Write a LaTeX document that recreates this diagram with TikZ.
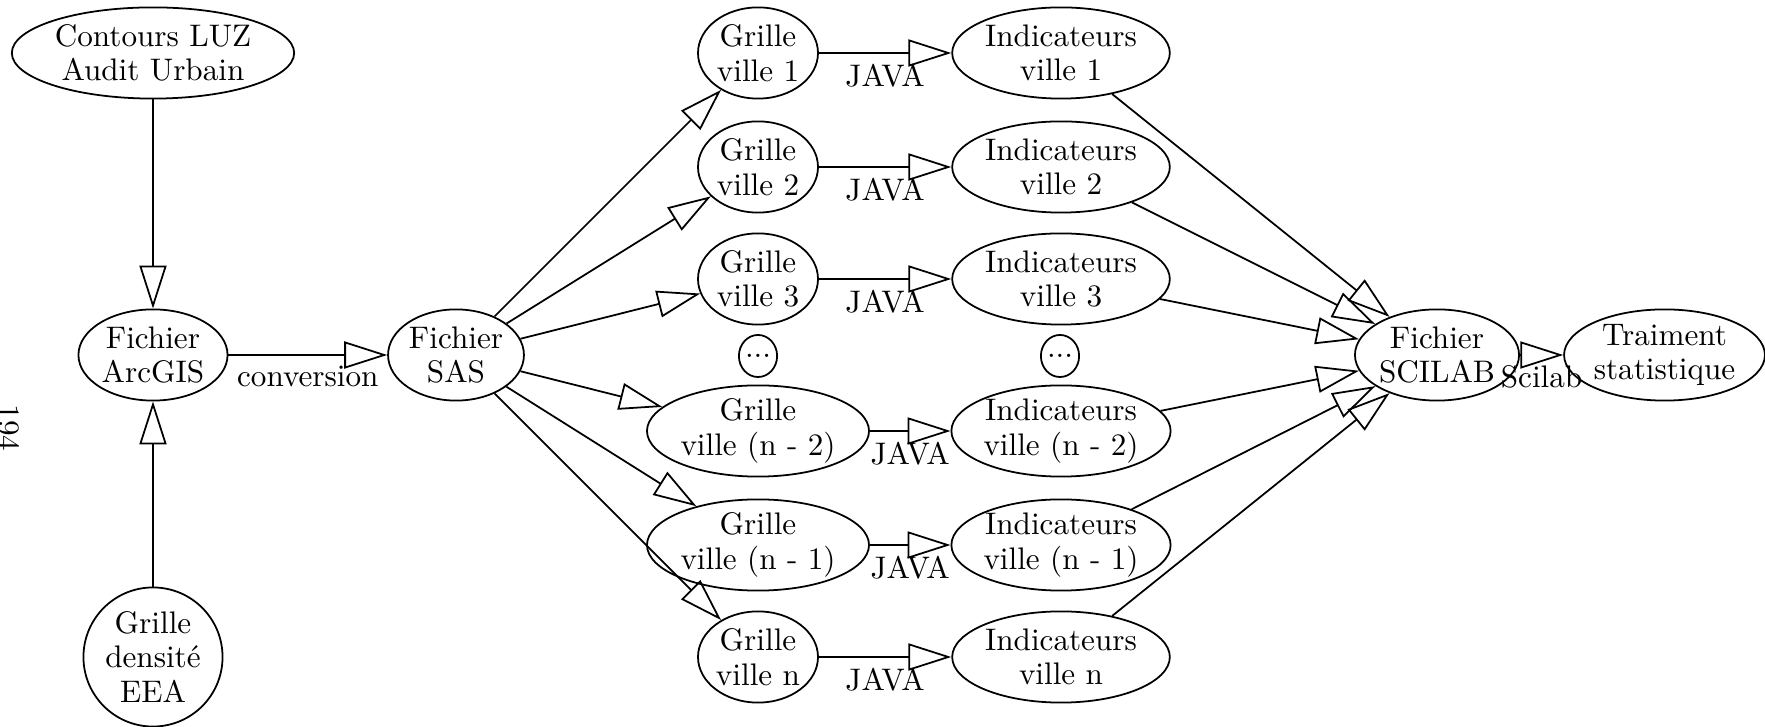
\documentclass[tikz,border=0pt]{standalone}
\usepackage{fontspec}
\usetikzlibrary{arrows.meta,shapes.geometric}

\tikzset{
  etape/.style={draw, ellipse, line width=0.6pt, inner sep=0pt, align=center,
    minimum height=31pt},
  fleche/.style={line width=0.6pt, -{Triangle[open, length=14.6pt, width=9.2pt]}},
  etiq/.style={below=2.4pt, inner sep=1pt, pos=0.5}
}

\begin{document}
\begin{tikzpicture}[x=0.34pt, y=-0.34pt,
    every node/.style={font=\fontsize{10.6pt}{11.8pt}\selectfont}]
  % cadre de la page (pixels)
  \useasboundingbox (0,0) rectangle (1765,727);

  % numero de page
  \node[rotate=-90] (page) at (9,428) {194};

  % sources
  \node[etape, minimum width=96pt] (luz) at (153,53) {Contours LUZ\\Audit Urbain};
  \node[etape, minimum width=50.7pt] (arcgis) at (153,355) {Fichier\\ArcGIS};
  \node[draw, circle, line width=0.6pt, inner sep=0pt, align=center,
    minimum size=47.3pt] (eea) at (153,657) {Grille\\densité\\EEA};
  \node[etape, minimum width=46.2pt] (sas) at (456,355) {Fichier\\SAS};

  % grilles par ville
  \node[etape, minimum width=40.8pt] (g1) at (758,53) {Grille\\ville 1};
  \node[etape, minimum width=40.8pt] (g2) at (758,167) {Grille\\ville 2};
  \node[etape, minimum width=40.8pt] (g3) at (758,279) {Grille\\ville 3};
  \node[etape, minimum width=13pt, minimum height=14.3pt] (gd) at (758,356) {...};
  \node[etape, minimum width=75.5pt] (gn2) at (758,431) {Grille\\ville (n - 2)};
  \node[etape, minimum width=75.5pt] (gn1) at (758,545) {Grille\\ville (n - 1)};
  \node[etape, minimum width=40.8pt] (gn) at (758,657) {Grille\\ville n};

  % indicateurs par ville
  \node[etape, minimum width=74pt] (i1) at (1061,53) {Indicateurs\\ville 1};
  \node[etape, minimum width=74pt] (i2) at (1061,167) {Indicateurs\\ville 2};
  \node[etape, minimum width=74pt] (i3) at (1061,279) {Indicateurs\\ville 3};
  \node[etape, minimum width=13pt, minimum height=14.3pt] (id) at (1060,356) {...};
  \node[etape, minimum width=74pt] (in2) at (1061,431) {Indicateurs\\ville (n - 2)};
  \node[etape, minimum width=74pt] (in1) at (1061,545) {Indicateurs\\ville (n - 1)};
  \node[etape, minimum width=74pt] (in) at (1061,657) {Indicateurs\\ville n};

  % sorties
  \node[etape, minimum width=55.4pt] (scilab) at (1437,355) {Fichier\\SCILAB};
  \node[etape, minimum width=68.3pt] (stat) at (1664.5,355) {Traiment\\statistique};

  % liaisons
  \draw[fleche] (luz) -- (arcgis);
  \draw[fleche] (eea) -- (arcgis);
  \draw[fleche] (arcgis) -- node[etiq] {conversion} (sas);

  \foreach \g in {g1,g2,g3,gn2,gn1,gn}
    \draw[fleche] (sas) -- (\g);

  \draw[fleche] (g1) -- node[etiq] {JAVA} (i1);
  \draw[fleche] (g2) -- node[etiq] {JAVA} (i2);
  \draw[fleche] (g3) -- node[etiq] {JAVA} (i3);
  \draw[fleche] (gn2) -- node[etiq] {JAVA} (in2);
  \draw[fleche] (gn1) -- node[etiq] {JAVA} (in1);
  \draw[fleche] (gn) -- node[etiq] {JAVA} (in);

  \foreach \i in {i1,i2,i3,in2,in1,in}
    \draw[fleche] (\i) -- (scilab);

  \draw[fleche] (scilab) -- node[etiq] {Scilab} (stat);
\end{tikzpicture}
\end{document}
